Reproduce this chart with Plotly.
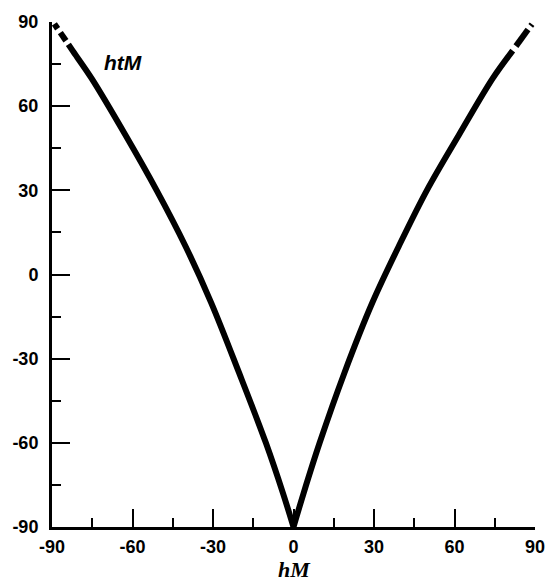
import plotly.graph_objects as go

# hM values (x) and htM values (y), two branches of the curve
left_hM = [-89.1, -87.9, None, -86.9, -84.8, None, -83.9, -82.2, -75.3, -62.8, -51.0,
           -40.2, -30.7, -20.3, -10.3, -3.9, 0.0]
left_htM = [89.3, 87.6, None, 86.2, 83.3, None, 82.0, 79.6, 70.0, 50.0, 30.0,
            10.0, -10.0, -35.0, -60.0, -78.0, -90.0]

right_hM = [0.0, 3.75, 9.75, 19.0, 29.4, 39.2, 49.7, 61.8, 74.3, 81.7, None,
            82.9, 87.4, None, 88.4, 88.9]
right_htM = [-90.0, -78.0, -60.0, -35.0, -10.0, 10.0, 30.0, 50.0, 70.0, 79.8, None,
             81.4, 87.3, None, 88.6, 89.2]

tick_vals = [-90, -60, -30, 0, 30, 60, 90]
tick_text = ["-90", "-60", "-30", "0", "30", "60", "90"]

fig = go.Figure()
for xs, ys in [(left_hM, left_htM), (right_hM, right_htM)]:
    fig.add_trace(go.Scatter(
        x=xs, y=ys, mode="lines",
        line=dict(color="black", width=6, shape="spline", smoothing=1.0),
        cliponaxis=False, showlegend=False, connectgaps=False,
        hoverinfo="skip",
    ))

tickfont = dict(family="Liberation Sans, Arial, sans-serif", size=18, color="black", weight="bold")
axis_common = dict(
    range=[-90, 90],
    tickmode="array", tickvals=tick_vals, ticktext=["<b>%s</b>" % t for t in tick_text],
    ticks="inside", ticklen=18, tickwidth=2, tickcolor="black",
    minor=dict(ticks="inside", ticklen=9, tickwidth=2, tickcolor="black", dtick=15, tick0=-90, showgrid=False),
    showline=True, linecolor="black", linewidth=3,
    showgrid=False, zeroline=False,
    tickfont=tickfont,
)

fig.update_layout(
    width=557, height=581,
    margin=dict(l=44.5, r=12, t=20.7, b=54, pad=0),
    paper_bgcolor="white", plot_bgcolor="white",
    xaxis=dict(**axis_common, ticklabelstandoff=1),
    yaxis=dict(**axis_common, ticklabelstandoff=7),
    annotations=[
        dict(text="<b><i>htM</i></b>", x=-63.6, y=75.5, xref="x", yref="y",
             xanchor="center", yanchor="middle", showarrow=False,
             font=dict(family="Liberation Sans, Arial, sans-serif", size=21, color="black",
                       weight="bold", style="italic")),
        dict(text="<b><i>hM</i></b>", x=0.4, y=-0.084, xref="x", yref="paper",
             xanchor="center", yanchor="middle", showarrow=False,
             font=dict(family="Liberation Serif, Times New Roman, serif", size=22, color="black",
                       weight="bold", style="italic")),
    ],
)

fig.write_html("out.html")
